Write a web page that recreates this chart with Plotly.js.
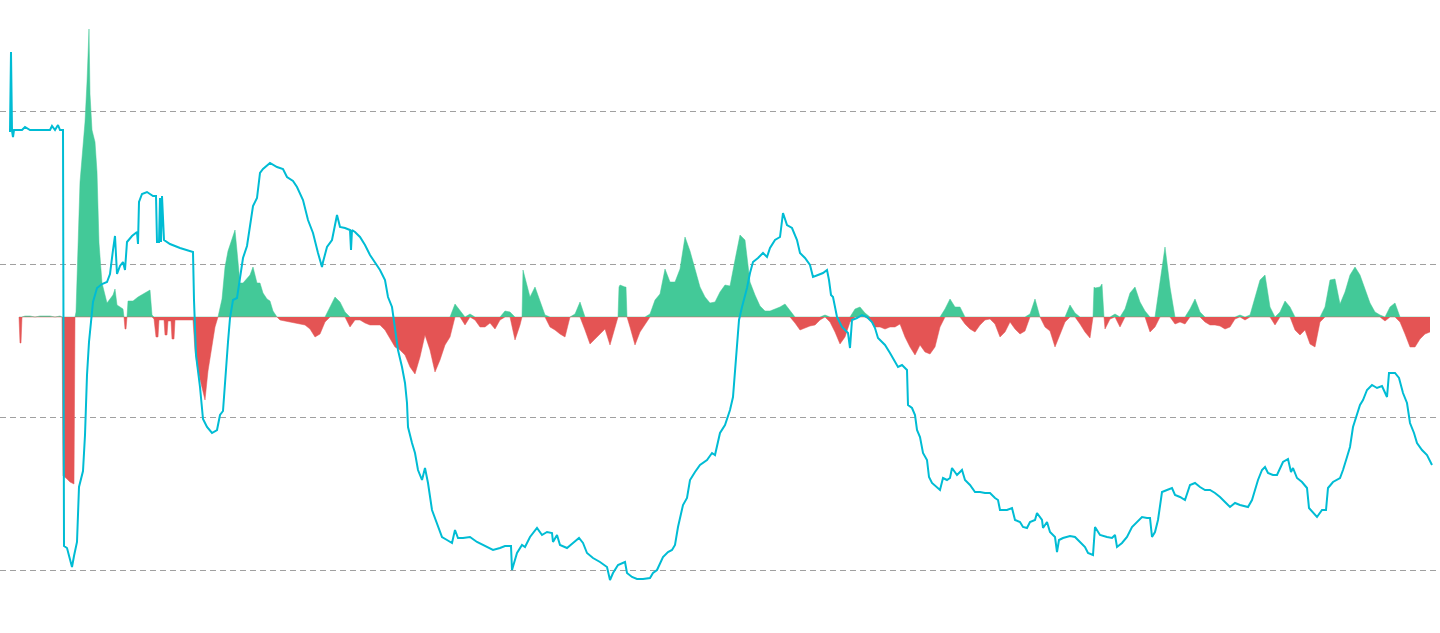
<!DOCTYPE html>
<html>
<head>
<meta charset="utf-8">
<script src="https://cdn.plot.ly/plotly-3.0.1.min.js"></script>
<style>html,body{margin:0;padding:0;background:#fff;}#chart{width:1440px;height:633px;}</style>
</head>
<body>
<div id="chart"></div>
<script>
// Price line: day index and value
const lineDay = [9,10,11,12,13,14,22,25,30,40,50,52,55,58,60,63,64,67,70,72,74,77,79,83,85,87,89,91,93,97,102,107,110,113,115,117,120,123,125,127,132,137,138,139,142,147,153,156,157,159,160,161,162,164,170,180,193,194,196,200,203,207,212,217,220,223,226,228,230,233,237,240,243,247,250,253,257,260,263,267,270,277,283,287,293,297,303,308,313,318,321,322,323,327,332,337,340,345,350,351,352,355,360,365,370,375,380,385,388,392,395,398,402,405,407,408,412,415,418,422,425,428,432,437,442,447,452,455,458,463,470,477,483,488,493,500,505,511,512,517,522,525,530,537,542,547,552,553,557,560,567,573,579,583,587,593,600,607,610,613,618,625,627,632,637,643,650,653,657,663,668,672,675,678,683,687,690,695,700,707,712,715,720,725,730,733,735,737,739,742,747,750,753,758,763,767,770,775,780,783,787,792,797,800,805,810,813,818,823,827,829,831,833,837,842,848,850,852,857,862,867,872,875,878,885,890,895,898,902,907,908,912,915,917,920,923,927,929,932,937,940,943,947,950,952,957,962,965,970,975,980,985,990,995,998,1000,1007,1012,1015,1020,1023,1027,1030,1035,1037,1042,1043,1047,1050,1055,1057,1059,1063,1070,1075,1080,1085,1088,1093,1095,1100,1107,1112,1115,1117,1122,1127,1132,1137,1142,1147,1150,1152,1155,1158,1162,1167,1172,1175,1180,1185,1190,1195,1200,1205,1210,1215,1220,1225,1230,1235,1240,1248,1252,1255,1258,1262,1265,1268,1273,1277,1280,1283,1288,1291,1293,1297,1302,1307,1309,1313,1317,1322,1326,1328,1333,1340,1343,1347,1350,1353,1357,1360,1363,1367,1372,1377,1382,1387,1389,1395,1399,1403,1407,1410,1414,1417,1422,1427,1432];
const lineVal = [439,439,518,439,433,440,440,443,440,440,440,444,440,445,440,440,24,22,10,3,14,28,83,99,135,195,228,248,268,282,286,288,296,320,334,296,304,308,300,328,334,338,326,368,376,378,374,374,328,328,372,328,374,330,326,322,318,270,215,183,151,143,137,140,155,159,207,228,252,270,272,292,312,324,344,364,372,397,401,405,407,403,401,393,389,383,370,350,337,317,308,303,308,323,330,355,343,342,340,320,340,338,333,325,315,308,300,290,273,263,240,220,203,187,167,143,127,117,100,90,102,87,60,47,33,30,27,40,32,32,33,28,25,23,20,22,24,24,0,17,25,23,33,42,35,38,37,28,35,25,22,27,32,27,17,12,8,3,-10,-3,5,8,-3,-7,-9,-9,-8,-3,0,13,18,20,25,43,65,72,90,98,105,110,117,115,137,145,160,173,197,217,250,263,282,297,308,312,317,313,322,330,333,357,345,342,330,317,312,305,293,295,297,300,290,275,273,253,243,237,222,250,252,255,253,248,242,232,225,217,208,203,205,200,165,162,155,140,133,117,110,93,87,82,80,92,90,92,102,95,100,90,85,78,78,77,77,72,70,60,60,62,50,48,43,42,48,50,57,50,42,48,38,33,18,30,32,34,33,28,23,17,15,43,35,33,32,35,23,27,33,43,48,53,52,52,33,38,50,78,80,82,75,73,70,85,87,83,80,80,77,73,68,63,67,65,63,70,80,90,100,103,97,95,95,102,108,111,98,102,92,88,82,62,58,53,60,60,82,88,92,100,113,123,143,157,165,170,180,185,182,184,173,197,197,192,177,167,147,137,127,120,115,105];

// Flow histogram: day index and value
const flowDay = [
19,20,21,22,25,30,35,40,45,50,55,60,62,63,66,70,74,75,76,78,80,82,
85,87,89,90,92,95,97,99,102,107,110,113,115,117,120,123,
124,125,126,127,128,133,138,143,150,152,154,156,158,159,
164,165,167,168,171,172,174,175,193,195,198,202,205,208,212,215,218,
222,225,228,232,235,237,240,243,247,250,253,257,260,263,267,270,273,277,280,
285,290,295,300,305,310,315,
320,325,330,335,340,345,350,355,360,365,370,375,380,385,390,395,400,405,410,415,
420,425,430,435,440,445,450,455,460,465,470,475,480,485,490,495,500,505,510,515,
520,522,523,525,530,535,540,545,550,555,560,565,570,575,580,585,590,595,600,605,610,615,618,619,
620,625,626,627,630,635,640,645,650,655,660,665,670,675,680,685,690,695,700,705,710,715,
720,725,730,735,740,745,750,755,760,765,770,775,780,785,790,795,800,805,810,815,
820,825,830,835,840,845,850,855,860,865,870,875,880,885,890,895,900,905,910,915,
920,925,930,935,940,945,950,955,960,965,970,975,980,985,990,995,1000,1005,1010,1015,
1020,1025,1030,1035,1040,1045,1050,1055,1060,1065,1070,1075,1080,1085,1090,1093,1094,1095,1100,1102,1104,1105,1110,1115,
1120,1125,1130,1135,1140,1145,1150,1155,1160,1165,1170,1175,1180,1185,1190,1195,1200,1205,1210,1215,
1220,1225,1230,1235,1240,1245,1250,1255,1260,1265,1270,1275,1280,1285,1290,1295,1300,1305,1310,1315,
1320,1325,1330,1335,1340,1345,1350,1355,1360,1365,1370,1375,1380,1385,1390,1395,1400,1405,1410,1415,
1420,1425,1430];
const flowVal = [
0,-26,-26,0,1,1,0,1,1,1,0,1,0,-159,-161,-165,-167,0,5,74,135,159,
195,235,288,223,187,175,145,74,34,14,18,22,28,12,10,8,
0,-12,-12,0,16,16,20,23,27,2,-2,-20,-20,-3,
-3,-18,-18,-4,-4,-22,-22,-3,-3,-34,-54,-70,-83,-54,-30,-10,0,
18,50,66,79,87,66,34,34,38,42,50,34,34,24,18,16,6,0,-3,
-4,-5,-6,-7,-8,-12,-20,
-17,-5,10,20,15,5,-10,-3,-3,-6,-8,-8,-8,-13,-22,-30,-33,-38,-50,-57,
-40,-18,-33,-55,-43,-28,-20,13,6,-8,3,-3,-10,-10,-6,-12,-3,6,5,-23,
-8,0,47,40,20,30,16,2,-10,-13,-17,-20,0,3,15,-13,-27,-22,-17,-12,-28,-10,0,30,
32,30,30,0,-10,-28,-15,-7,3,17,23,48,35,35,48,80,66,48,30,20,14,15,
25,32,31,57,82,77,35,22,11,6,6,8,10,13,7,-6,-13,-11,-9,-8,
-3,2,-5,-15,-27,-20,-5,8,10,4,-3,-10,-10,-12,-10,-10,-7,-20,-30,-38,
-28,-35,-37,-30,-10,8,18,10,10,-7,-12,-15,-8,-3,-2,-7,-20,-15,-5,-12,
-17,-14,3,18,0,-10,-14,-30,-18,-5,12,4,-7,-15,-21,0,30,29,30,33,0,-12,-2,3,
-10,8,24,30,15,6,-15,-10,35,70,30,-7,-5,-7,8,18,5,-5,-8,-8,
-9,-12,-10,-2,2,-3,2,20,37,42,10,-8,5,16,10,-13,-18,-13,-27,-30,
-5,10,37,38,13,25,42,50,42,28,14,5,2,-4,10,14,-5,-17,-30,-30,
-22,-17,-15];

const n = Math.min(flowDay.length, flowVal.length);
const fDay = flowDay.slice(0, n);
const flowPos = flowVal.slice(0, n).map(v => Math.max(v, 0));
const flowNeg = flowVal.slice(0, n).map(v => Math.min(v, 0));

const traces = [
  {
    type: 'scatter', mode: 'lines', x: fDay, y: flowPos, yaxis: 'y',
    fill: 'tozeroy', fillcolor: '#43c998', line: {width: 0.5, color: '#43c998'},
    hoverinfo: 'skip'
  },
  {
    type: 'scatter', mode: 'lines', x: fDay, y: flowNeg, yaxis: 'y',
    fill: 'tozeroy', fillcolor: '#e45454', line: {width: 0.5, color: '#e45454'},
    hoverinfo: 'skip'
  },
  {
    type: 'scatter', mode: 'lines', x: lineDay, y: lineVal, yaxis: 'y2',
    line: {color: '#00bcd4', width: 2},
    hoverinfo: 'skip'
  }
];

const layout = {
  width: 1440, height: 633,
  margin: {l: 0, r: 0, t: 0, b: 0},
  paper_bgcolor: '#ffffff', plot_bgcolor: '#ffffff',
  showlegend: false,
  xaxis: {range: [0, 1440], showgrid: false, zeroline: false, showticklabels: false, showline: false, ticks: ''},
  yaxis: {range: [-316, 317], showgrid: false, zeroline: false, showticklabels: false, showline: false, ticks: ''},
  yaxis2: {
    overlaying: 'y', side: 'right', range: [-63, 570],
    tick0: 0, dtick: 153, showgrid: true, gridcolor: '#a0a0a0', gridwidth: 1, griddash: '6px,4px',
    zeroline: false, showticklabels: false, showline: false, ticks: ''
  }
};

Plotly.newPlot('chart', traces, layout, {displayModeBar: false, staticPlot: true});
</script>
</body>
</html>
